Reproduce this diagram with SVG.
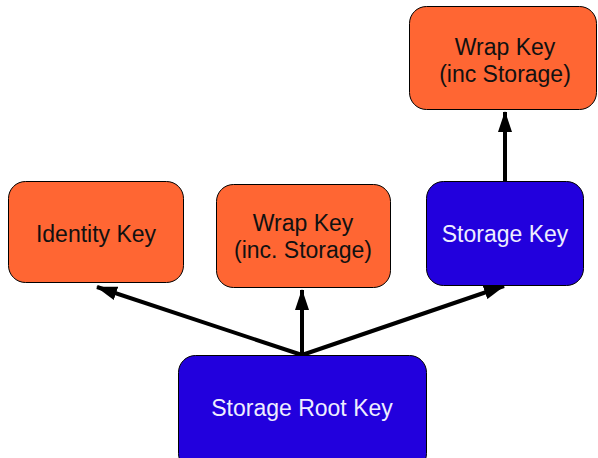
<svg xmlns="http://www.w3.org/2000/svg" width="598" height="458" viewBox="0 0 598 458">
<style>
.o{fill:#ff6633;stroke:#000;stroke-width:1}
.b{fill:#2200dd;stroke:#000;stroke-width:1}
text{font-family:"Liberation Sans",Arial,sans-serif;font-size:23px;text-anchor:middle}
.dk{fill:#111}
.lt{fill:#eeeeff}
.c{stroke:#000;stroke-width:4;fill:none}
</style>
<defs>
<marker id="ah" viewBox="0 0 21 14" refX="20" refY="7" markerWidth="21" markerHeight="14" orient="auto" markerUnits="userSpaceOnUse">
<path d="M0,0 L21,7 L0,14 z" fill="#000"/>
</marker>
</defs>
<rect width="598" height="458" fill="#fff"/>
<g id="connectors">
<line class="c" x1="302" y1="355" x2="97" y2="287" marker-end="url(#ah)"/>
<line class="c" x1="302" y1="355" x2="302" y2="290" marker-end="url(#ah)"/>
<line class="c" x1="302" y1="355" x2="504" y2="286" marker-end="url(#ah)"/>
<line class="c" x1="505" y1="181" x2="505" y2="112" marker-end="url(#ah)"/>
</g>
<g id="identity">
<rect class="o" x="8.5" y="181.5" width="175" height="101" rx="17"/>
<text class="dk" x="96" y="242">Identity Key</text>
</g>
<g id="wrap1">
<rect class="o" x="216.5" y="184.5" width="174" height="103" rx="17"/>
<text class="dk" x="303" y="231">Wrap Key</text>
<text class="dk" x="303" y="258">(inc. Storage)</text>
</g>
<g id="storage">
<rect class="b" x="426.5" y="181.5" width="157" height="104" rx="17"/>
<text class="lt" x="505" y="242">Storage Key</text>
</g>
<g id="wrap2">
<rect class="o" x="409.5" y="6.5" width="187" height="103" rx="17"/>
<text class="dk" x="505" y="55">Wrap Key</text>
<text class="dk" x="505" y="82">(inc Storage)</text>
</g>
<g id="root">
<rect class="b" x="178.5" y="355.5" width="248" height="115" rx="17"/>
<text class="lt" x="302" y="416">Storage Root Key</text>
</g>
</svg>
